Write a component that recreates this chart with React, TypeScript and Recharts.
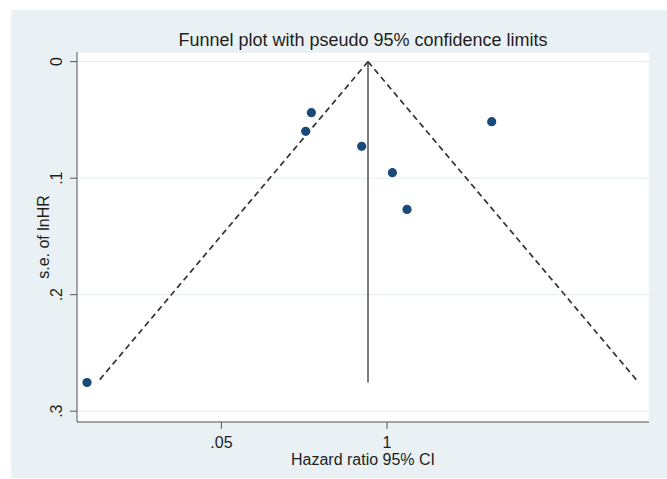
import React from 'react';
import {
  ComposedChart,
  XAxis,
  YAxis,
  CartesianGrid,
  Scatter,
  Line,
  Customized,
} from 'recharts';

// Studies: x = ln(HR), se = s.e. of lnHR
const studyX = [-1.2558, -0.3164, -0.3403, -0.1059, 0.0226, 0.0837, 0.4383];
const studySE = [0.2754, 0.0438, 0.0598, 0.0727, 0.0953, 0.1268, 0.0515];

// Pooled estimate and funnel limits
const pooledX = -0.0795;
const funnelLeftX = [-0.0795, -1.2125];
const funnelRightX = [-0.0795, 1.0535];
const funnelSE = [0, 0.2754];

const xTicks = [-0.6931, 0];
const xTickLabels = ['.05', '1'];
const yTicks = [0, 0.1, 0.2, 0.3];
const yTickLabels = ['0', '.1', '.2', '.3'];

const points = studyX.map((x, i) => ({ x, se: studySE[i] }));
const leftLine = funnelLeftX.map((x, i) => ({ x, se: funnelSE[i] }));
const rightLine = funnelRightX.map((x, i) => ({ x, se: funnelSE[i] }));
const midLine = funnelSE.map((se) => ({ x: pooledX, se }));

const FONT = '"Liberation Sans", Arial, Helvetica, sans-serif';
const TXT = '#1e1e1e';

const YTick = (props: any) => {
  const { y, payload } = props;
  const idx = yTicks.indexOf(payload.value);
  const label = idx >= 0 ? yTickLabels[idx] : String(payload.value);
  const x = 57;
  return (
    <text
      x={x}
      y={y}
      transform={`rotate(-90, ${x}, ${y})`}
      textAnchor="middle"
      dominantBaseline="central"
      fontSize={16}
      fontFamily={FONT}
      fill={TXT}
    >
      {label}
    </text>
  );
};

const XTick = (props: any) => {
  const { x, payload } = props;
  const idx = xTicks.indexOf(payload.value);
  const label = idx >= 0 ? xTickLabels[idx] : String(payload.value);
  return (
    <text
      x={x}
      y={442}
      textAnchor="middle"
      dominantBaseline="central"
      fontSize={16}
      fontFamily={FONT}
      fill={TXT}
    >
      {label}
    </text>
  );
};

const Titles = () => (
  <g>
    <text
      x={363}
      y={40}
      textAnchor="middle"
      dominantBaseline="central"
      fontSize={18}
      fontFamily={FONT}
      fill={TXT}
    >
      Funnel plot with pseudo 95% confidence limits
    </text>
    <text
      x={363}
      y={459}
      textAnchor="middle"
      dominantBaseline="central"
      fontSize={16}
      fontFamily={FONT}
      fill={TXT}
    >
      Hazard ratio 95% CI
    </text>
    <text
      x={43}
      y={237}
      transform="rotate(-90, 43, 237)"
      textAnchor="middle"
      dominantBaseline="central"
      fontSize={16}
      fontFamily={FONT}
      fill={TXT}
    >
      s.e. of lnHR
    </text>
  </g>
);

export default function App() {
  return (
    <div style={{ position: 'absolute', left: 0, top: 0, width: 667, height: 479, background: '#fff' }}>
      <div
        style={{
          position: 'absolute',
          left: 11,
          top: 10,
          width: 656,
          height: 468,
          background: '#e9f1f4',
        }}
      />
      <div style={{ position: 'absolute', left: 0, top: 0 }}>
        <ComposedChart
          width={667}
          height={479}
          margin={{ top: 52, right: 18, bottom: 27, left: 20 }}
        >
          <CartesianGrid
            vertical={false}
            horizontal={true}
            fill="#ffffff"
            stroke="#e3edf0"
            strokeWidth={1}
          />
          <XAxis
            type="number"
            dataKey="x"
            domain={[-1.2976, 1.0967]}
            ticks={xTicks}
            allowDataOverflow
            height={30}
            stroke="#555"
            tickLine={{ stroke: '#555' }}
            tickSize={7}
            tick={<XTick />}
          />
          <YAxis
            type="number"
            dataKey="se"
            reversed
            domain={[-0.0083, 0.3093]}
            ticks={yTicks}
            allowDataOverflow
            width={57}
            stroke="#555"
            tickLine={{ stroke: '#555' }}
            tickSize={7}
            tick={<YTick />}
          />
          <Line
            data={leftLine}
            dataKey="se"
            type="linear"
            stroke="#333"
            strokeWidth={1.7}
            strokeDasharray="6 4"
            dot={false}
            activeDot={false}
            isAnimationActive={false}
          />
          <Line
            data={rightLine}
            dataKey="se"
            type="linear"
            stroke="#333"
            strokeWidth={1.7}
            strokeDasharray="6 4"
            dot={false}
            activeDot={false}
            isAnimationActive={false}
          />
          <Line
            data={midLine}
            dataKey="se"
            type="linear"
            stroke="#444"
            strokeWidth={1.4}
            dot={false}
            activeDot={false}
            isAnimationActive={false}
          />
          <Scatter
            data={points}
            dataKey="se"
            fill="#1a4a78"
            shape={(p: any) => <circle cx={p.cx} cy={p.cy} r={4.6} fill="#1a4a78" />}
            isAnimationActive={false}
          />
          <Customized component={Titles} />
        </ComposedChart>
      </div>
    </div>
  );
}
